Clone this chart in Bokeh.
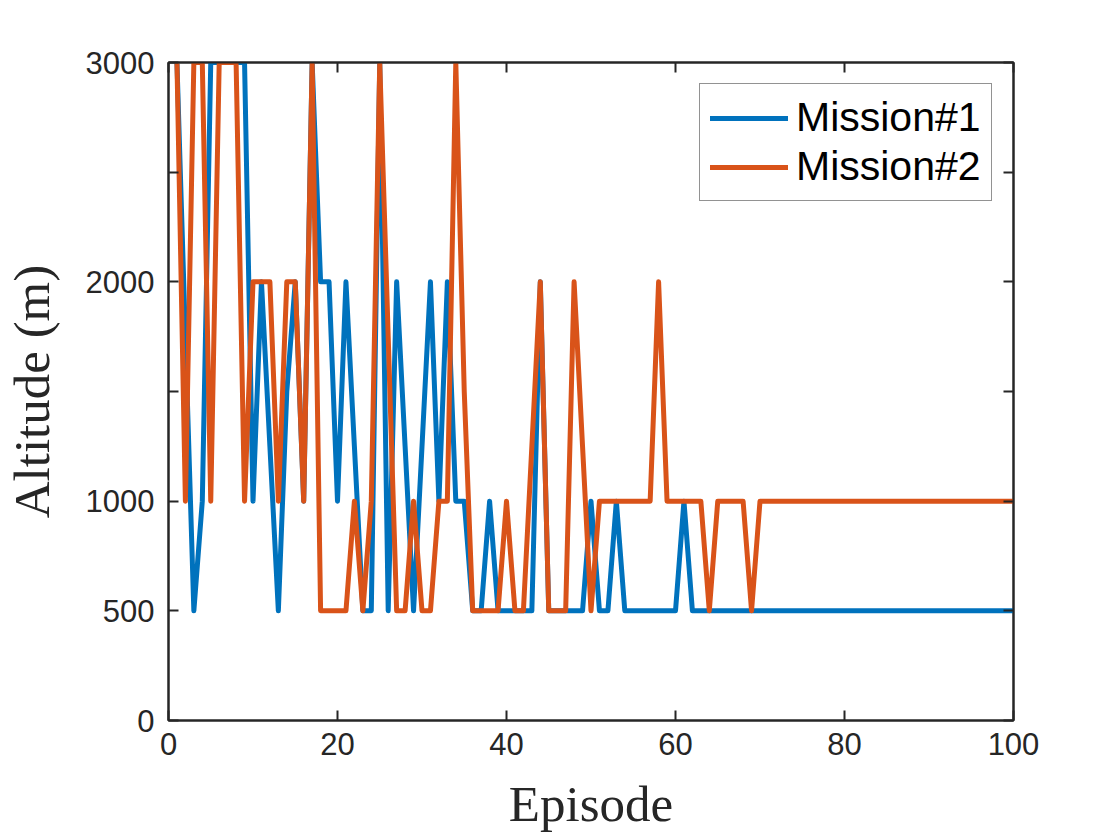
from bokeh.plotting import figure
from bokeh.models import Range1d, FixedTicker, LinearAxis, Legend, LegendItem
from bokeh.embed import file_html
from bokeh.resources import INLINE

episodes = list(range(1, 101))

mission1 = [3000, 1750, 500, 1000, 3000, 3000, 3000, 3000, 3000, 1000,
            2000, 1250, 500, 1500, 2000, 1000, 3000, 2000, 2000, 1000,
            2000, 1250, 500, 500, 3000, 500, 2000, 1250, 500, 1250,
            2000, 1000, 2000, 1000, 1000, 500, 500, 1000, 500, 500,
            500, 500, 500, 2000, 500, 500, 500, 500, 500, 1000,
            500, 500, 1000] + [500] * 7 + [1000] + [500] * 39

mission2 = [3000, 1000, 3000, 3000, 1000, 3000, 3000, 3000, 1000, 2000,
            2000, 2000, 1000, 2000, 2000, 1000, 3000, 500, 500, 500,
            500, 1000, 500, 1000, 3000, 1750, 500, 500, 1000, 500,
            500, 1000, 1000, 3000, 1500, 500, 500, 500, 500, 1000,
            500, 500, 1250, 2000, 500, 500, 500, 2000, 1250, 500] \
           + [1000] * 7 + [2000] + [1000] * 5 + [500] + [1000] * 4 + [500] + [1000] * 31

series_names = ["Mission#1", "Mission#2"]
series_colors = ["#0072BD", "#D95319"]

x_ticks = [0, 20, 40, 60, 80, 100]
y_ticks = [0, 500, 1000, 1500, 2000, 2500, 3000]
y_labels = {0: "0", 500: "500", 1000: "1000", 1500: "", 2000: "2000", 2500: "", 3000: "3000"}

AX = "#262626"
TICK_FONT = "Liberation Sans"
LABEL_FONT = "Liberation Serif"

p = figure(width=1120, height=840, output_backend="svg", toolbar_location=None,
           x_range=Range1d(0, 100), y_range=Range1d(0, 3000),
           min_border_left=163, min_border_right=107, min_border_top=62, min_border_bottom=120,
           x_axis_label="Episode", y_axis_label="Altitude (m)")
p.grid.visible = False
p.outline_line_color = AX
p.outline_line_width = 2
p.background_fill_color = "white"
p.border_fill_color = "white"

renderers = []
for vals, col in zip([mission1, mission2], series_colors):
    r = p.line(episodes, vals, line_color=col, line_width=5, line_join="round", line_cap="round")
    renderers.append(r)

def style_axis(ax, show_labels):
    ax.axis_line_color = AX
    ax.axis_line_width = 2
    ax.major_tick_line_color = AX
    ax.major_tick_line_width = 2
    ax.major_tick_in = 10
    ax.major_tick_out = 0
    ax.minor_tick_line_color = None
    ax.major_label_text_font = TICK_FONT
    ax.major_label_text_font_size = "31px"
    ax.major_label_text_color = AX if show_labels else None
    ax.axis_label_text_font = LABEL_FONT
    ax.axis_label_text_font_size = "51px"
    ax.axis_label_text_font_style = "normal"
    ax.axis_label_text_color = AX

xa = p.xaxis[0]
xa.ticker = FixedTicker(ticks=x_ticks)
style_axis(xa, True)
xa.major_label_standoff = 12
xa.axis_label_standoff = 18

ya = p.yaxis[0]
ya.ticker = FixedTicker(ticks=y_ticks)
ya.major_label_overrides = y_labels
style_axis(ya, True)
ya.major_label_standoff = 14
ya.axis_label_standoff = 23

top = LinearAxis(ticker=FixedTicker(ticks=x_ticks))
style_axis(top, False)
top.major_label_text_font_size = "1px"
p.add_layout(top, "above")

right = LinearAxis(ticker=FixedTicker(ticks=y_ticks))
style_axis(right, False)
right.major_label_text_font_size = "1px"
p.add_layout(right, "right")

legend = Legend(items=[LegendItem(label=n, renderers=[r]) for n, r in zip(series_names, renderers)],
                location=(531, 519))
legend.label_text_font = TICK_FONT
legend.label_text_font_size = "41px"
legend.label_text_color = "black"
legend.glyph_width = 78
legend.glyph_height = 46
legend.label_height = 46
legend.label_standoff = 8
legend.spacing = 2
legend.padding = 10
legend.margin = 0
legend.border_line_color = AX
legend.border_line_width = 1.5
legend.background_fill_color = "white"
legend.background_fill_alpha = 1
p.add_layout(legend, "center")

open("out.html", "w").write(file_html(p, INLINE))
